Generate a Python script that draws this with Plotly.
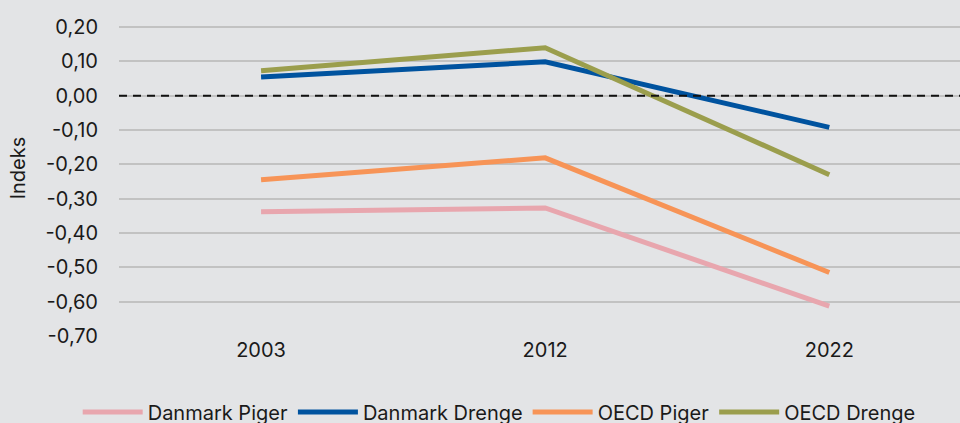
import plotly.graph_objects as go

years = ["2003", "2012", "2022"]
danmark_piger = [-0.338, -0.327, -0.613]
danmark_drenge = [0.055, 0.099, -0.092]
oecd_piger = [-0.245, -0.181, -0.515]
oecd_drenge = [0.073, 0.140, -0.230]
tick_vals = [0.2, 0.1, 0.0, -0.1, -0.2, -0.3, -0.4, -0.5, -0.6, -0.7]
tick_text = ["0,20", "0,10", "0,00", "-0,10", "-0,20", "-0,30", "-0,40", "-0,50", "-0,60", "-0,70"]

series = [
    ("Danmark Piger", danmark_piger, "#E8A6AE"),
    ("Danmark Drenge", danmark_drenge, "#00539F"),
    ("OECD Piger", oecd_piger, "#F79457"),
    ("OECD Drenge", oecd_drenge, "#9B9E4D"),
]

fig = go.Figure()
for name, vals, col in series:
    fig.add_trace(go.Scatter(x=years, y=vals, name=name, mode="lines",
                             line=dict(color=col, width=5)))

fig.add_shape(type="line", xref="paper", yref="y", x0=0, x1=1, y0=0, y1=0,
              line=dict(color="#111111", width=2, dash="8px,6px"), layer="above")

font = "Inter, Roboto, sans-serif"
fig.update_layout(
    width=960, height=423,
    paper_bgcolor="#E3E4E6", plot_bgcolor="#E3E4E6",
    margin=dict(l=119, r=0, t=0, b=87, autoexpand=False),
    font=dict(family=font, size=20, color="#1a1a1a"),
    showlegend=True,
    legend=dict(orientation="h", x=0.52, xanchor="center", xref="container",
                y=0.026, yanchor="middle", yref="container",
                font=dict(size=20, family=font), itemwidth=60, tracegroupgap=0,
                bgcolor="rgba(0,0,0,0)"),
    xaxis=dict(type="category", range=[-0.5, 2.46], showgrid=False, zeroline=False,
               showline=False, ticks="", tickfont=dict(size=20)),
    yaxis=dict(range=[-0.70, 0.279], tickvals=tick_vals, ticktext=tick_text,
               showgrid=True, gridcolor="#C2C2C2", gridwidth=1.5, zeroline=False,
               showline=False, ticks="", ticklabelstandoff=20,
               tickfont=dict(size=20),
               title=dict(text="Indeks", font=dict(size=20), standoff=14)),
)

fig.write_html("out.html", config={"displayModeBar": False})

with open("out.html", "r", encoding="utf-8") as f:
    html = f.read()
html = html.replace("<head>", "<head><style>html,body{margin:0;padding:0;overflow:hidden;}</style>", 1)
with open("out.html", "w", encoding="utf-8") as f:
    f.write(html)
